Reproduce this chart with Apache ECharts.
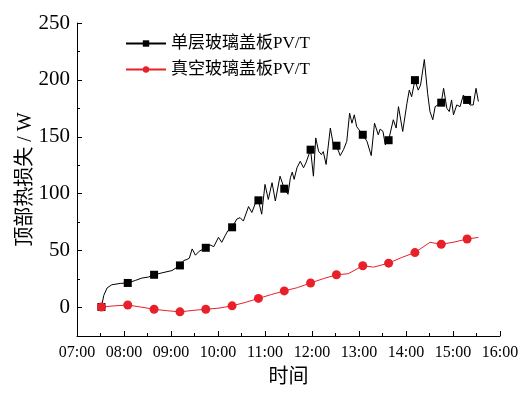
<!DOCTYPE html>
<html>
<head>
<meta charset="utf-8">
<script src="https://cdn.jsdelivr.net/npm/echarts@6/dist/echarts.min.js"></script>
<style>html,body{margin:0;padding:0;background:#fff;}#c{width:529px;height:393px;}</style>
</head>
<body>
<div id="c"></div>
<script>
// Time in decimal hours
const markerHours = [7.52, 8.08, 8.64, 9.19, 9.74, 10.30, 10.86, 11.41, 11.97, 12.52, 13.08, 13.63, 14.19, 14.75, 15.30];

const blackHours = [7.52,7.57,7.64,7.74,7.92,8.08,8.24,8.38,8.52,8.64,8.81,9.02,9.19,9.27,9.34,9.39,9.45,9.52,9.60,9.74,9.83,9.91,10.01,10.08,10.15,10.21,10.30,10.40,10.47,10.54,10.65,10.72,10.78,10.83,10.86,10.93,11.00,11.07,11.15,11.22,11.32,11.41,11.49,11.54,11.58,11.62,11.68,11.75,11.82,11.87,11.97,12.03,12.08,12.14,12.20,12.24,12.30,12.39,12.46,12.52,12.60,12.67,12.74,12.80,12.85,12.90,12.95,13.08,13.17,13.26,13.33,13.41,13.45,13.51,13.56,13.63,13.73,13.79,13.84,13.93,14.02,14.07,14.12,14.19,14.26,14.31,14.39,14.46,14.51,14.57,14.62,14.75,14.80,14.87,14.92,14.97,15.01,15.08,15.15,15.22,15.30,15.36,15.43,15.49,15.54];
const blackValues = [0.5,10.7,17.2,20,21.2,21.6,23.8,25.9,26.8,28.8,30.5,32.5,37,41.3,42.2,43.4,51.5,46,49.5,52.5,55,53.5,61.7,57.3,63,67.5,70.5,77.7,79,76,88.7,83.5,90,96.6,94.2,82,108.2,95,109.7,93.6,115.4,104.4,99.5,114,119,112.6,122.8,128.5,122.8,127,138.7,115.4,149,137.3,134.4,137,125.7,157.7,141.6,142.2,133.5,138.7,146,170.8,162,169.3,159,151.8,146,133.5,162,151.8,156.8,154.7,143,147,165,157.7,176.5,154.7,179.5,191,185.2,199.8,191,195.5,217.9,188.2,172.2,165,176.5,180,192.6,175,172.2,182.4,169.3,178,176.5,186.7,182.4,178,178,192.6,181];

const redHours = [7.52,7.80,8.08,8.35,8.64,8.92,9.19,9.47,9.74,10.02,10.30,10.58,10.86,11.14,11.41,11.69,11.97,12.25,12.52,12.77,13.08,13.31,13.63,13.91,14.19,14.51,14.75,15.02,15.30,15.54];
const redValues = [0.5,1.5,2.2,0.5,-1.5,-2.8,-3.8,-2.5,-1.5,-0.5,1.5,4.5,8,11.5,14.6,17.5,21.6,25.5,28.8,29.7,36.7,35.5,39,44,48.3,57.3,55.6,57.5,60.2,61.6];

const yLabelValues = [0, 50, 100, 150, 200, 250];
const yMinorValues = [25, 75, 125, 175, 225];

function build(hours, values) {
  return hours.map((h, i) => {
    const isM = markerHours.some(m => Math.abs(m - h) < 0.005);
    return isM ? { value: [h, values[i]] } : { value: [h, values[i]], symbol: 'none' };
  });
}

const SERIF = "'Liberation Serif', serif";
const MIXED = "'Liberation Serif', 'Noto Sans CJK SC', serif";
const chart = echarts.init(document.getElementById('c'), null, { renderer: 'canvas' });
chart.setOption({
  animation: false,
  backgroundColor: '#fff',
  grid: { left: 77, right: 29, top: 23, bottom: 55 },
  legend: {
    orient: 'vertical', left: 120, top: 30, itemWidth: 40, itemHeight: 8, itemGap: 9,
    textStyle: { fontFamily: MIXED, fontSize: 17, color: '#000' },
    data: ['单层玻璃盖板PV/T', '真空玻璃盖板PV/T']
  },
  xAxis: {
    type: 'value', min: 7, max: 16, interval: 1,
    name: '时间', nameLocation: 'middle', nameGap: 32, nameMoveOverlap: false,
    nameTextStyle: { fontFamily: MIXED, fontSize: 20, color: '#000' },
    axisLine: { show: true, onZero: false, lineStyle: { color: '#000', width: 1 } },
    axisTick: { show: true, inside: true, length: 5, lineStyle: { color: '#000' } },
    minorTick: { show: true, splitNumber: 2, length: 3, lineStyle: { color: '#000' } },
    splitLine: { show: false },
    axisLabel: { fontFamily: SERIF, fontSize: 16, color: '#000', margin: 9,
      formatter: v => (v < 10 ? '0' : '') + v + ':00' }
  },
  yAxis: [{
    type: 'value', min: -25, max: 250, interval: 25,
    name: '顶部热损失 / W', nameLocation: 'middle', nameGap: 41, nameRotate: 90, nameMoveOverlap: false,
    nameTextStyle: { fontFamily: MIXED, fontSize: 20, color: '#000' },
    axisLine: { show: true, onZero: false, lineStyle: { color: '#000', width: 1 } },
    axisTick: { show: true, inside: true, length: 5, lineStyle: { color: '#000' }, customValues: yLabelValues },
    splitLine: { show: false },
    axisLabel: { fontFamily: SERIF, fontSize: 21, color: '#000', margin: 7, customValues: yLabelValues }
  }, {
    type: 'value', min: -25, max: 250, interval: 25, position: 'left',
    axisLine: { show: false, onZero: false },
    axisTick: { show: true, inside: true, length: 3, lineStyle: { color: '#000' }, customValues: yMinorValues },
    axisLabel: { show: false },
    splitLine: { show: false }
  }],
  series: [{
    name: '单层玻璃盖板PV/T', type: 'line', symbol: 'rect', symbolSize: 8,
    showAllSymbol: true,
    lineStyle: { color: '#000', width: 1 }, itemStyle: { color: '#000' },
    emphasis: { disabled: true },
    data: build(blackHours, blackValues)
  }, {
    name: '真空玻璃盖板PV/T', type: 'line', symbol: 'circle', symbolSize: 9,
    showAllSymbol: true,
    lineStyle: { color: '#e8202a', width: 1 }, itemStyle: { color: '#e8202a' },
    emphasis: { disabled: true },
    data: build(redHours, redValues)
  }]
});
</script>
</body>
</html>
